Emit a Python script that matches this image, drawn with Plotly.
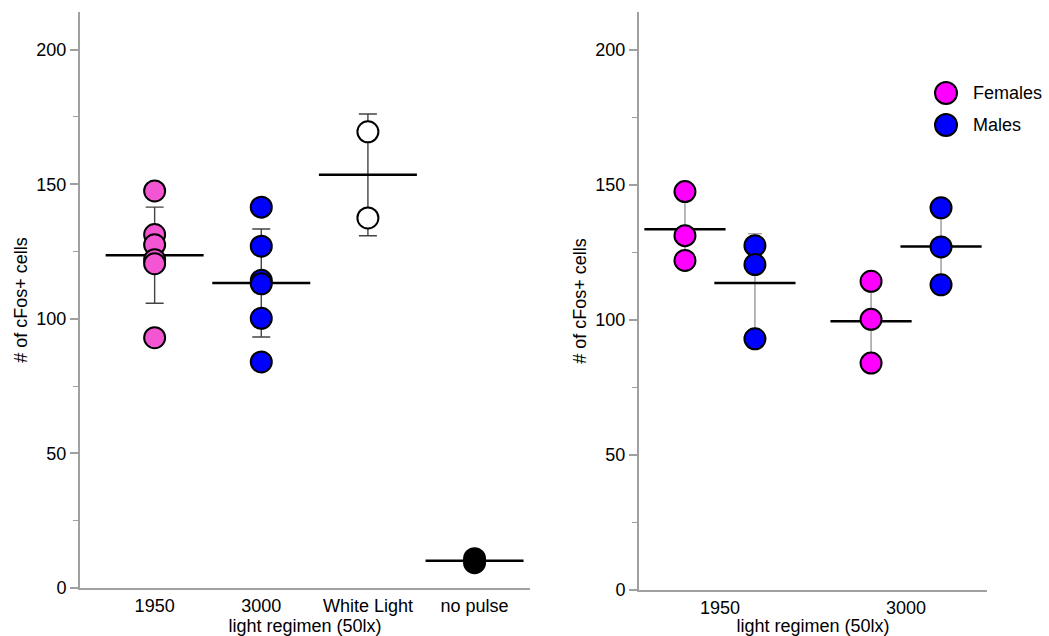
import numpy as np
import plotly.graph_objects as go

# ---- data -------------------------------------------------------------
# left panel: all animals per light regimen
groups_left = ["1950", "3000", "White Light", "no pulse"]
vals_1950 = [147.5, 131.3, 127.5, 122.0, 120.5, 93.0]
vals_3000 = [141.5, 127.0, 114.3, 113.0, 100.2, 84.0]
vals_white = [169.5, 137.5]
vals_nopulse = [9.4, 10.9]

# right panel: split by sex
groups_right = ["1950", "3000"]
fem_1950 = [147.5, 131.2, 122.0]
male_1950 = [127.5, 120.5, 93.0]
fem_3000 = [114.3, 100.2, 84.0]
male_3000 = [141.5, 127.0, 113.0]

series_names = ["Females", "Males"]

# ---- styling ----------------------------------------------------------
PINK = "#F455D2"
MAGENTA = "#FF00FF"
BLUE = "#0000FF"
AXIS_GREY = "#A0A0A0"
FONT = "Liberation Sans, Arial, sans-serif"

fig = go.Figure()


def add_group(x, values, fill, xaxis, yaxis, cap, bar_color, bar_w, mean_len):
    arr = np.asarray(values, dtype=float)
    mean = arr.mean()
    sd = arr.std(ddof=1)
    # mean line with SD whiskers
    fig.add_trace(go.Scatter(
        x=[x], y=[mean], mode="markers", showlegend=False, hoverinfo="skip",
        xaxis=xaxis, yaxis=yaxis,
        marker=dict(symbol="line-ew", size=mean_len,
                    line=dict(color="black", width=2.5)),
        error_y=dict(type="data", array=[sd], visible=True, color=bar_color,
                     thickness=bar_w, width=cap),
    ))
    # individual animals
    fig.add_trace(go.Scatter(
        x=[x] * len(arr), y=arr, mode="markers", showlegend=False,
        xaxis=xaxis, yaxis=yaxis,
        marker=dict(size=21, color=fill, line=dict(color="black", width=2)),
    ))


left_sets = [vals_1950, vals_3000, vals_white, vals_nopulse]
left_fill = [PINK, BLUE, "white", "black"]
for i, (vals, col) in enumerate(zip(left_sets, left_fill)):
    add_group(i, vals, col, "x", "y", cap=9, bar_color="#444444",
              bar_w=1.4, mean_len=70)

OFF = 0.188
right_sets = [(0 - OFF, fem_1950, MAGENTA), (0 + OFF, male_1950, BLUE),
              (1 - OFF, fem_3000, MAGENTA), (1 + OFF, male_3000, BLUE)]
for x, vals, col in right_sets:
    add_group(x, vals, col, "x2", "y2", cap=7, bar_color="#888888",
              bar_w=1.2, mean_len=58)

# ---- axes -------------------------------------------------------------
tick_font = dict(family=FONT, size=18, color="black")

yaxis_common = dict(
    range=[0, 214], tickvals=[0, 50, 100, 150, 200], ticks="outside",
    ticklen=8, tickwidth=1.5, tickcolor=AXIS_GREY, showline=True,
    linecolor=AXIS_GREY, linewidth=2, showgrid=False, zeroline=False,
    tickfont=tick_font, automargin=False,
    minor=dict(tickvals=[25, 75, 125, 175], ticks="outside", ticklen=5,
               tickwidth=1.2, tickcolor=AXIS_GREY, showgrid=False),
    title=dict(text="# of cFos+ cells",
               font=dict(family=FONT, size=18, color="black"), standoff=4),
)
xaxis_common = dict(
    showline=True, linecolor=AXIS_GREY, linewidth=2, showgrid=False,
    zeroline=False, ticks="", tickfont=tick_font, automargin=False,
    title=dict(text="light regimen (50lx)",
               font=dict(family=FONT, size=18, color="black"), standoff=0),
)

fig.update_layout(
    width=1049, height=636, margin=dict(l=0, r=0, t=0, b=0),
    paper_bgcolor="white", plot_bgcolor="white",
    font=dict(family=FONT),
    xaxis=dict(domain=[80 / 1049, 530 / 1049], range=[-0.70, 3.52],
               tickvals=list(range(len(groups_left))), ticktext=groups_left,
               anchor="y", **xaxis_common),
    yaxis=dict(domain=[48 / 636, 624 / 636], anchor="x", **yaxis_common),
    xaxis2=dict(domain=[639 / 1049, 987 / 1049], range=[-0.435, 1.435],
                tickvals=list(range(len(groups_right))),
                ticktext=groups_right, anchor="y2", **xaxis_common),
    yaxis2=dict(domain=[46 / 636, 624 / 636], anchor="x2", **yaxis_common),
    showlegend=False,
)

# ---- legend (drawn as shapes + text to keep the large symbols) ---------
legend_fill = [MAGENTA, BLUE]
legend_y = [1 - 93 / 636, 1 - 125 / 636]
for name, col, ly in zip(series_names, legend_fill, legend_y):
    fig.add_shape(type="circle", xref="paper", yref="paper",
                  xsizemode="pixel", ysizemode="pixel",
                  xanchor=946 / 1049, yanchor=ly,
                  x0=-11, x1=11, y0=-11, y1=11,
                  fillcolor=col, line=dict(color="black", width=2))
    fig.add_annotation(text=name, xref="paper", yref="paper",
                       x=971 / 1049, y=ly, xanchor="left", yanchor="middle",
                       showarrow=False, font=dict(family=FONT, size=18,
                                                  color="black"))

fig.write_html("out.html")
